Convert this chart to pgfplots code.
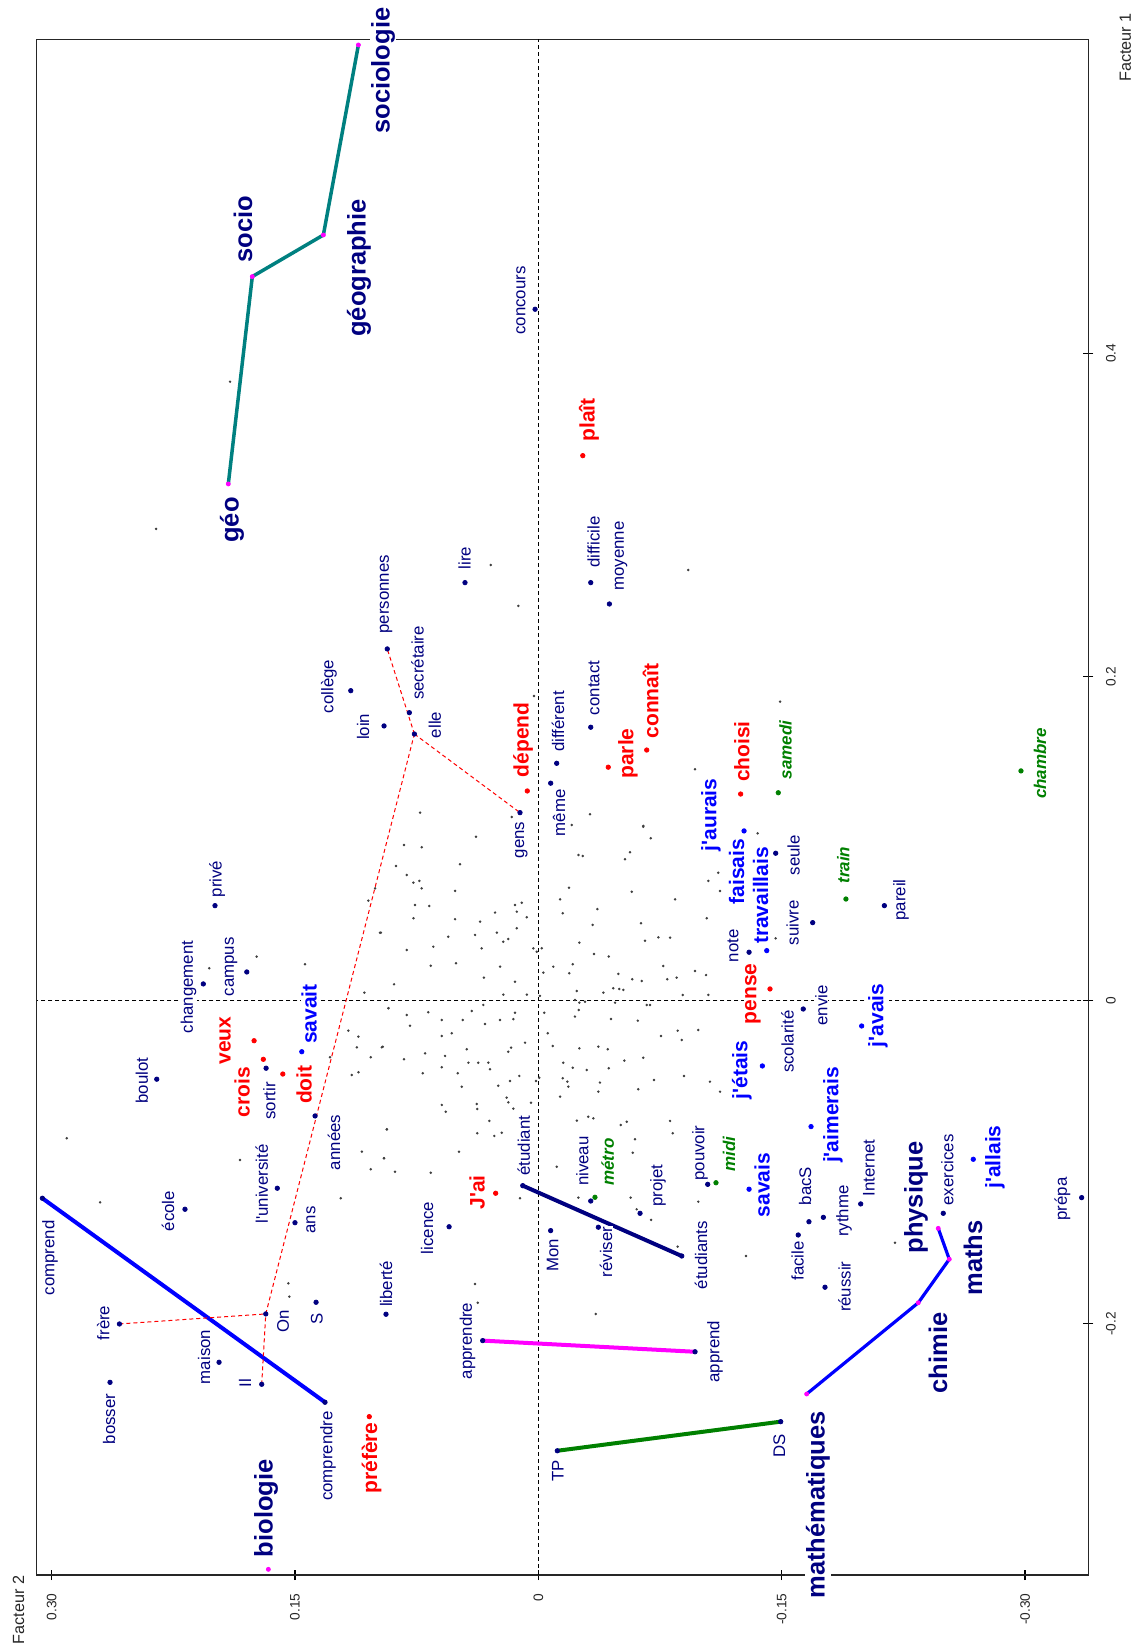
\documentclass[border=0pt]{standalone}
\usepackage{pgfplots}
\pgfplotsset{compat=1.18}
\usepackage{fontspec}
\setmainfont{Liberation Sans}[Ligatures=TeXOff]
\definecolor{navyc}{RGB}{0,0,128}
\definecolor{bluec}{RGB}{0,0,255}
\definecolor{greenc}{RGB}{0,128,0}
\definecolor{tealc}{RGB}{0,128,128}
\definecolor{magc}{RGB}{255,0,255}
\tikzset{
  lb/.style={rotate=90, fill=white, inner sep=0.4pt, text=navyc, font=\fontsize{8.4}{9}\selectfont},
  lr/.style={rotate=90, fill=white, inner sep=0.4pt, text=red, font=\fontsize{10.5}{11}\selectfont\bfseries},
  lu/.style={rotate=90, fill=white, inner sep=0.4pt, text=bluec, font=\fontsize{10.5}{11}\selectfont\bfseries},
  lg/.style={rotate=90, fill=white, inner sep=0.4pt, text=greenc, font=\fontsize{8.5}{9}\selectfont\bfseries\itshape},
  lbig/.style={rotate=90, fill=white, inner sep=0.4pt, text=navyc, font=\fontsize{12.75}{13}\selectfont\bfseries},
}
\begin{document}
\begin{tikzpicture}
\begin{axis}[
  set layers,
  scale only axis, width=525.8pt, height=767.85pt,
  x dir=reverse,
  xmin=-0.3390, xmax=0.3092, ymin=-0.3553, ymax=0.5941,
  clip=false,
  axis line style={line width=0.6pt, black!85},
  xtick={-0.30,-0.15,0,0.15,0.30},
  xticklabels={-0.30,-0.15,0,0.15,0.30},
  ytick={-0.2,0,0.2,0.4},
  yticklabels={-0.2,0,0.2,0.4},
  xtick pos=left, ytick pos=right,
  tick align=center, major tick length=5pt,
  tick style={line width=0.6pt, black},
  xticklabel style={rotate=90, anchor=east, inner sep=0pt, font=\fontsize{6.85}{8}\selectfont, text=black!85},
  yticklabel style={rotate=90, anchor=north, inner sep=0pt, font=\fontsize{6.85}{8}\selectfont, text=black!85},
  xticklabel shift=6.5pt, yticklabel shift=6.2pt,
]
% zero lines
\addplot[black, line width=0.5pt, dash pattern=on 2pt off 1.5pt] coordinates {(0,-0.3553) (0,0.5941)};
\addplot[black, line width=0.5pt, dash pattern=on 2pt off 1.5pt] coordinates {(-0.3390,0) (0.3092,0)};
% cloud of unlabeled words
\addplot[only marks, mark=*, mark size=0.4pt, black!75] coordinates {
(0.0828,0.0960) (0.0719,0.0946) (0.0384,0.1011) (0.0877,0.0830) (0.0483,0.0841) (0.0811,0.0775) (0.0770,0.0727) (0.0733,0.0738) (0.0719,0.0692) (0.0513,0.0676)
(0.0760,0.0589) (0.0672,0.0583) (0.0770,0.0507) (0.0513,0.0501) (0.0359,0.0486) (0.0267,0.0542) (0.0144,0.0589) (0.0133,0.0548) (0.0102,0.0603) (0.0071,0.0513)
(0.0133,0.0445) (0.0976,0.0418) (0.0390,0.0404) (0.0555,0.0393) (0.0256,0.0418) (0.0216,0.0362) (0.0185,0.0379) (0.0647,0.0331) (0.0811,0.0311) (0.0349,0.0321)
(0.0031,0.0321) (-0.0021,0.0321) (0.0507,0.0229) (0.0663,0.0214) (0.0236,0.0208) (0.0335,0.0140) (0.0144,0.0115) (0.0071,0.0035) (0.0216,0.0035) (-0.0010,0.0027)
(0.0889,0.0099) (0.0924,-0.0049) (0.0678,-0.0074) (0.0811,-0.0091) (0.0791,-0.0157) (0.0595,-0.0122) (0.0466,-0.0122) (0.0329,-0.0147) (0.0236,-0.0122) (0.0154,-0.0117)
(0.0144,-0.0077) (0.0410,-0.0066) (0.0339,-0.0029) (0.0534,-0.0204) (0.0595,-0.0221) (0.0959,-0.0287) (0.0441,-0.0303) (0.0698,-0.0328) (0.0575,-0.0344) (0.0828,-0.0365)
(0.0431,-0.0386) (0.0370,-0.0386) (0.0308,-0.0386) (0.0185,-0.0318) (0.0168,-0.0293) (0.0082,-0.0262) (0.0298,-0.0427) (0.0712,-0.0451) (0.0497,-0.0451) (0.0595,-0.0414)
(0.0472,-0.0534) (0.0247,-0.0528) (0.0174,-0.0499) (0.0117,-0.0468) (0.0595,-0.0647) (0.0571,-0.0689) (0.0380,-0.0641) (0.0376,-0.0672) (0.0302,-0.0746) (0.0195,-0.0602)
(0.0185,-0.0631) (0.0154,-0.0670) (0.0376,-0.0822) (0.0271,-0.0839) (0.0226,-0.0819) (0.0489,-0.0936) (0.0934,-0.0798) (0.0951,-0.0977) (0.0883,-0.1060) (0.0663,-0.1066)
(0.0045,-0.0633) (-0.0006,-0.0479) (-0.0031,0.0171) (-0.0037,-0.0077) (-0.0058,-0.0204) (-0.0089,-0.0283) (-0.0092,0.0208) (-0.0134,0.0624) (-0.0150,0.0538) (-0.0189,0.0696)
(-0.0191,0.0167) (-0.0237,0.0057) (-0.0212,0.0223) (-0.0253,0.0356) (-0.0247,0.0898) (-0.0274,0.0892) (-0.0335,0.0466) (-0.0364,0.0564) (-0.0343,0.0286) (-0.0434,0.0270)
(-0.0534,0.0872) (-0.0565,0.0915) (-0.0576,0.0671) (-0.0647,0.1073) (-0.0693,0.1002) (-0.0843,0.0624) (-0.0812,0.0387) (-0.0740,0.0389) (-0.0770,0.0212) (-0.0795,0.0130)
(-0.0853,0.0140) (-0.0966,0.0181) (-0.1034,0.0156) (-0.1048,0.0033) (-0.0890,0.0033) (-0.1038,0.0507) (-0.1109,0.0789) (-0.1120,0.0676) (-0.1048,0.0738) (-0.1352,0.1032)
(-0.0658,0.0368) (-0.0633,0.0476) (-0.0579,0.0130) (-0.0637,0.0119) (-0.0401,0.0047) (-0.0462,0.0074) (-0.0493,0.0163) (-0.0499,0.0070) (-0.0524,0.0064) (-0.0226,0.0002)
(-0.0253,-0.0015) (-0.0249,-0.0060) (-0.0226,-0.0101) (-0.0288,-0.0009) (-0.0473,-0.0015) (-0.0668,-0.0029) (-0.0688,-0.0029) (-0.0613,-0.0126) (-0.0448,-0.0116) (-0.0370,-0.0287)
(-0.0428,-0.0303) (-0.0253,-0.0297) (-0.0530,-0.0373) (-0.0647,-0.0355) (-0.0212,-0.0417) (-0.0298,-0.0431) (-0.0434,-0.0420) (-0.0154,-0.0386) (-0.0150,-0.0482) (-0.0179,-0.0503)
(-0.0185,-0.0534) (-0.0370,-0.0565) (-0.0380,-0.0509) (-0.0134,-0.0596) (-0.0616,-0.0550) (-0.0713,-0.0493) (-0.0859,-0.0188) (-0.0884,-0.0245) (-0.0986,-0.0184) (-0.0756,-0.0221)
(-0.0898,-0.0468) (-0.1058,-0.0503) (-0.1120,-0.0565) (-0.0545,-0.0751) (-0.0508,-0.0771) (-0.0596,-0.0859) (-0.0582,-0.0942) (-0.0237,-0.0744) (-0.0308,-0.0720) (-0.0339,-0.0730)
(-0.0812,-0.0746) (-0.0828,-0.0822) (-0.0569,-0.1220) (-0.0606,-0.1292) (-0.0695,-0.1358) (-0.0247,-0.1220) (-0.0113,-0.1029) (0.0113,-0.1224) (-0.0986,-0.1245) (0.0014,-0.0499)
(0.0010,0.0300)
(0.2907,-0.0853) (0.2701,-0.1249) (0.1839,-0.0987) (0.2028,0.0198) (0.1736,0.0270) (0.1438,0.0223) (0.0971,0.0418) (0.1072,0.0047) (0.1006,0.0692) (0.1048,0.0616)
(0.1171,-0.0188) (0.1109,-0.0225) (0.1119,-0.0291) (0.1033,-0.0352) (0.0965,-0.0291) (0.1150,-0.0462) (0.1109,-0.0445) (0.0934,-0.0798) (0.1088,-0.0936) (0.0951,-0.0977)
(0.1033,-0.1045) (0.1218,-0.1224) (0.0924,-0.0049) (0.1284,-0.0352)
(0.0293,0.2691) (0.0123,0.2438) (0.0027,0.1881) (-0.0924,0.2660) (-0.0966,0.1428) (-0.0319,0.1150) (-0.0647,0.1078) (-0.0206,0.1084) (0.0729,0.1160) (0.0164,0.1133)
(-0.1490,0.1846) (0.2356,0.2914) (0.1900,0.3824) (-0.1463,0.0383) (-0.2198,-0.1499) (0.0390,-0.1754) (0.0373,-0.1870) (-0.0354,-0.1939) (-0.1280,-0.1581) (-0.0859,-0.1523)
(0.1541,-0.1750) (0.1535,-0.1832)
};
% coloured links
\addplot[tealc, line width=1.75pt, no markers] coordinates {(0.1911,0.3192) (0.1763,0.4474) (0.1325,0.4731) (0.1109,0.5906)};
\addplot[bluec, line width=2pt, no markers] coordinates {(0.3057,-0.1224) (0.1315,-0.2485)};
\addplot[magc, line width=2pt, no markers] coordinates {(0.0343,-0.2104) (-0.0966,-0.2173)};
\addplot[greenc, line width=2pt, no markers] coordinates {(-0.0117,-0.2785) (-0.1494,-0.2605)};
\addplot[navyc, line width=2pt, no markers] coordinates {(0.0096,-0.1146) (-0.0884,-0.1581)};
\addplot[bluec, line width=1.6pt, no markers] coordinates {(-0.1654,-0.2434) (-0.2342,-0.1870) (-0.2533,-0.1601) (-0.2465,-0.1410)};
% red dashed tree
\addplot[red, line width=0.5pt, dash pattern=on 2pt off 1.5pt, no markers] coordinates {(0.2582,-0.2001) (0.1680,-0.1939)};
\addplot[red, line width=0.5pt, dash pattern=on 2pt off 1.5pt, no markers] coordinates {(0.1705,-0.2374) (0.1680,-0.1939)};
\addplot[red, line width=0.5pt, dash pattern=on 2pt off 1.5pt, no markers] coordinates {(0.1680,-0.1939) (0.0764,0.1646)};
\addplot[red, line width=0.5pt, dash pattern=on 2pt off 1.5pt, no markers] coordinates {(0.0764,0.1646) (0.0931,0.2172)};
\addplot[red, line width=0.5pt, dash pattern=on 2pt off 1.5pt, no markers] coordinates {(0.0764,0.1646) (0.0113,0.1160)};
% labelled points
\addplot[only marks, mark=*, mark size=1.1pt, navyc] coordinates {
(0.0020,0.4272) (0.0931,0.2172) (0.1156,0.1914) (0.0951,0.1696) (0.0795,0.1778) (0.0764,0.1646) (0.0452,0.2582) (-0.0323,0.2582) (-0.0438,0.2450) (-0.0323,0.1688)
(-0.0113,0.1465) (-0.0076,0.1342) (0.0113,0.1160) (-0.1463,0.0909) (-0.1691,0.0480) (-0.2133,0.0585) (-0.1299,0.0297) (-0.1633,-0.0054) (0.1993,0.0585) (0.2065,0.0101)
(0.1797,0.0175) (0.2352,-0.0488) (0.1678,-0.0420) (0.1376,-0.0715) (0.1609,-0.1162) (0.2178,-0.1292) (0.1500,-0.1375) (0.3057,-0.1224) (0.0096,-0.1146) (0.0550,-0.1400)
(-0.0323,-0.1241) (-0.0076,-0.1424) (-0.0370,-0.1403) (-0.0627,-0.1317) (-0.1044,-0.1138) (-0.0884,-0.1581) (-0.1602,-0.1451) (-0.1668,-0.1369) (-0.1757,-0.1342) (-0.1767,-0.1774)
(-0.1987,-0.1259) (-0.2496,-0.1317) (-0.3349,-0.1220) (0.2582,-0.2001) (0.2640,-0.2362) (0.1968,-0.2238) (0.1705,-0.2374) (0.1680,-0.1939) (0.1370,-0.1867) (0.1315,-0.2485)
(0.0939,-0.1941) (0.0343,-0.2104) (-0.0966,-0.2173) (-0.0117,-0.2785) (-0.1494,-0.2605)
};
\addplot[only marks, mark=*, mark size=1.1pt, red] coordinates {
(-0.0274,0.3367) (0.0068,0.1294) (-0.0431,0.1441) (-0.0668,0.1547) (-0.1247,0.1275) (-0.1428,0.0070) (0.1752,-0.0250) (0.1695,-0.0365) (0.1575,-0.0456) (0.0263,-0.1193) (0.1042,-0.2574)
};
\addplot[only marks, mark=*, mark size=1.1pt, bluec] coordinates {
(0.1458,-0.0318) (-0.1268,0.1047) (-0.1408,0.0307) (-0.1381,-0.0406) (-0.1993,-0.0159) (-0.1299,-0.1168) (-0.1681,-0.0781) (-0.2681,-0.0983)
};
\addplot[only marks, mark=*, mark size=1.1pt, greenc] coordinates {
(-0.1479,0.1283) (-0.2975,0.1418) (-0.1896,0.0626) (-0.0349,-0.1218) (-0.1095,-0.1128)
};
\addplot[only marks, mark=*, mark size=1pt, magc] coordinates {
(0.1911,0.3192) (0.1763,0.4474) (0.1325,0.4731) (0.1109,0.5906) (0.1664,-0.3518) (-0.1654,-0.2434) (-0.2342,-0.1870) (-0.2533,-0.1601) (-0.2465,-0.1410)
};
% labels
\node[lb] at (axis cs:0.0107,0.4326) {concours};
\node[lb] at (axis cs:0.0939,0.2509) {personnes};
\node[lb] at (axis cs:0.1290,0.1940) {collège};
\node[lb] at (axis cs:0.1080,0.1690) {loin};
\node[lb] at (axis cs:0.0745,0.2085) {secrétaire};
\node[lb] at (axis cs:0.0637,0.1702) {elle};
\node[lb] at (axis cs:0.0455,0.2734) {lire};
\node[lb] at (axis cs:-0.0340,0.2833) {difficile};
\node[lb] at (axis cs:-0.0510,0.2747) {moyenne};
\node[lb] at (axis cs:-0.0343,0.1931) {contact};
\node[lb] at (axis cs:-0.0121,0.1724) {différent};
\node[lb] at (axis cs:-0.0128,0.1158) {même};
\node[lb] at (axis cs:0.0104,0.0991) {gens};
\node[lb] at (axis cs:-0.1573,0.0898) {seule};
\node[lb] at (axis cs:-0.1567,0.0478) {suivre};
\node[lb] at (axis cs:-0.2235,0.0620) {pareil};
\node[lb] at (axis cs:-0.1200,0.0336) {note};
\node[lb] at (axis cs:-0.1744,-0.0031) {envie};
\node[lb] at (axis cs:-0.1536,-0.0256) {scolarité};
\node[lb] at (axis cs:0.1980,0.0750) {privé};
\node[lb] at (axis cs:0.2156,0.0082) {changement};
\node[lb] at (axis cs:0.1894,0.0206) {campus};
\node[lb] at (axis cs:0.2444,-0.0496) {boulot};
\node[lb] at (axis cs:0.1658,-0.0623) {sortir};
\node[lb] at (axis cs:0.1259,-0.0879) {années};
\node[lb] at (axis cs:0.1705,-0.1136) {l'université};
\node[lb] at (axis cs:0.2282,-0.1303) {école};
\node[lb] at (axis cs:0.1401,-0.1358) {ans};
\node[lb] at (axis cs:0.3010,-0.1593) {comprend};
\node[lb] at (axis cs:0.0090,-0.0898) {étudiant};
\node[lb] at (axis cs:0.0686,-0.1408) {licence};
\node[lb] at (axis cs:-0.0272,-0.0994) {niveau};
\node[lb] at (axis cs:-0.0088,-0.1575) {Mon};
\node[lb] at (axis cs:-0.0417,-0.1556) {réviser};
\node[lb] at (axis cs:-0.0738,-0.1145) {projet};
\node[lb] at (axis cs:-0.0997,-0.0944) {pouvoir};
\node[lb] at (axis cs:-0.1003,-0.1575) {étudiants};
\node[lb] at (axis cs:-0.1598,-0.1612) {facile};
\node[lb] at (axis cs:-0.1644,-0.1148) {bacS};
\node[lb] at (axis cs:-0.1884,-0.1303) {rythme};
\node[lb] at (axis cs:-0.1887,-0.1771) {réussir};
\node[lb] at (axis cs:-0.2038,-0.1037) {Internet};
\node[lb] at (axis cs:-0.2522,-0.1049) {exercices};
\node[lb] at (axis cs:-0.3231,-0.1228) {prépa};
\node[lb] at (axis cs:0.2681,-0.1995) {frère};
\node[lb] at (axis cs:0.2646,-0.2589) {bosser};
\node[lb] at (axis cs:0.2060,-0.2205) {maison};
\node[lb] at (axis cs:0.1808,-0.2366) {Il};
\node[lb] at (axis cs:0.1573,-0.1983) {On};
\node[lb] at (axis cs:0.1366,-0.1970) {S};
\node[lb] at (axis cs:0.1296,-0.2817) {comprendre};
\node[lb] at (axis cs:0.0939,-0.1754) {liberté};
\node[lb] at (axis cs:0.0436,-0.2106) {apprendre};
\node[lb] at (axis cs:-0.1089,-0.2173) {apprend};
\node[lb] at (axis cs:-0.0121,-0.2910) {TP};
\node[lb] at (axis cs:-0.1485,-0.2754) {DS};
\node[lr] at (axis cs:-0.0312,0.3588) {plaît};
\node[lr] at (axis cs:0.0094,0.1611) {dépend};
\node[lr] at (axis cs:-0.0553,0.1526) {parle};
\node[lr] at (axis cs:-0.0692,0.1850) {connaît};
\node[lr] at (axis cs:-0.1255,0.1537) {choisi};
\node[lr] at (axis cs:-0.1323,0.0039) {pense};
\node[lr] at (axis cs:0.1931,-0.0249) {veux};
\node[lr] at (axis cs:0.1826,-0.0567) {crois};
\node[lr] at (axis cs:0.1444,-0.0522) {doit};
\node[lr] at (axis cs:0.0378,-0.1188) {J'ai};
\node[lr] at (axis cs:0.1027,-0.2830) {préfère};
\node[lu] at (axis cs:0.1413,-0.0085) {savait};
\node[lu] at (axis cs:-0.1064,0.1146) {j'aurais};
\node[lu] at (axis cs:-0.1222,0.0796) {faisais};
\node[lu] at (axis cs:-0.1370,0.0648) {travaillais};
\node[lu] at (axis cs:-0.1255,-0.0431) {j'étais};
\node[lu] at (axis cs:-0.2094,-0.0094) {j'avais};
\node[lu] at (axis cs:-0.1379,-0.1142) {savais};
\node[lu] at (axis cs:-0.1816,-0.0709) {j'aimerais};
\node[lu] at (axis cs:-0.2815,-0.0969) {j'allais};
\node[lg] at (axis cs:-0.1524,0.1547) {samedi};
\node[lg] at (axis cs:-0.3092,0.1464) {chambre};
\node[lg] at (axis cs:-0.1880,0.0836) {train};
\node[lg] at (axis cs:-0.0427,-0.1000) {métro};
\node[lg] at (axis cs:-0.1175,-0.0950) {midi};
\node[lbig] at (axis cs:0.0957,0.5747) {sociologie};
\node[lbig] at (axis cs:0.1105,0.4527) {géographie};
\node[lbig] at (axis cs:0.1820,0.4768) {socio};
\node[lbig] at (axis cs:0.1888,0.2969) {géo};
\node[lbig] at (axis cs:0.1678,-0.3141) {biologie};
\node[lbig] at (axis cs:-0.1724,-0.3120) {mathématiques};
\node[lbig] at (axis cs:-0.2463,-0.2181) {chimie};
\node[lbig] at (axis cs:-0.2679,-0.1593) {maths};
\node[lbig] at (axis cs:-0.2328,-0.1219) {physique};
% axis titles
\node[rotate=90, inner sep=0pt, text=black!85, font=\fontsize{8.1}{9}\selectfont] at (axis cs:0.3204,-0.3769) {Facteur 2};
\node[rotate=90, inner sep=0pt, text=black!85, font=\fontsize{8.1}{9}\selectfont] at (axis cs:-0.3619,0.5891) {Facteur 1};
\end{axis}
\pgfresetboundingbox
\path[use as bounding box] (-18.35pt,-37.5pt) rectangle (553.65pt,787.5pt);
\end{tikzpicture}
\end{document}
